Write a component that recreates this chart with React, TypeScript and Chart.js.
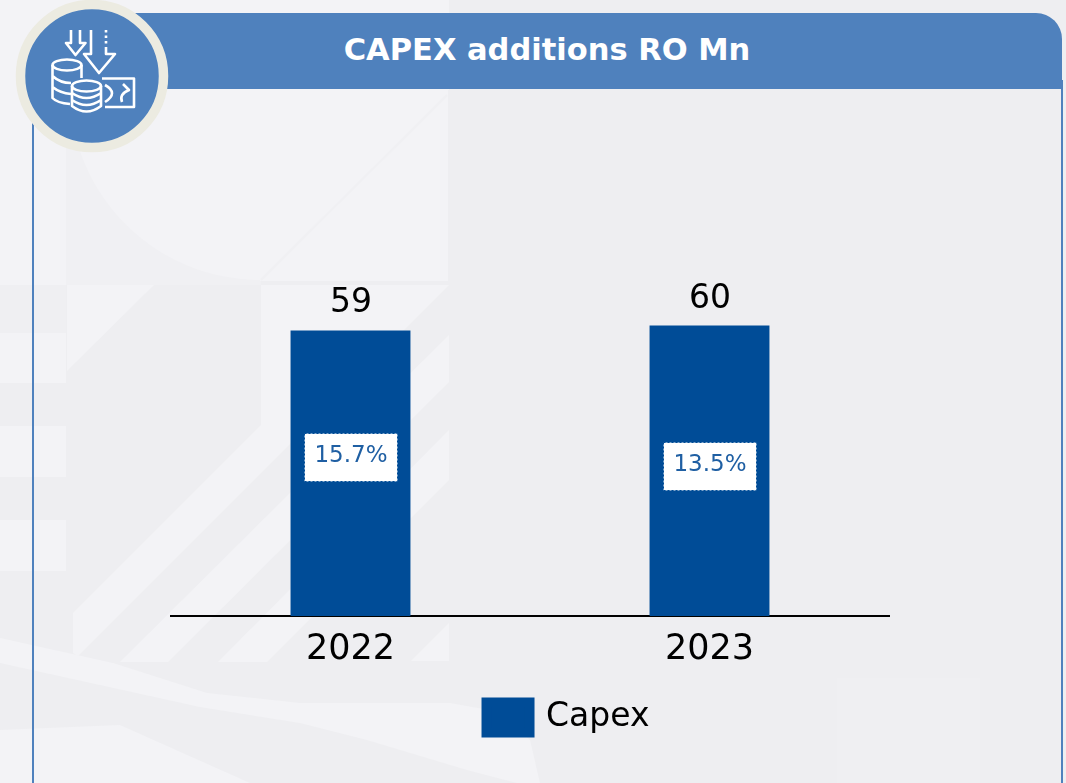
import React, { useEffect, useRef } from "react";
import { Chart, registerables } from "chart.js";

Chart.register(...registerables);

const categories = ["2022", "2023"];
const capexValues = [59, 60];
const percentLabels = ["15.7%", "13.5%"];
const percentAnchors = [32.9, 30.9];
const seriesName = "Capex";
const chartTitle = "CAPEX additions RO Mn";

const BLUE = "#004C97";
const HEADER = "#4F81BD";
const FONT = "'DejaVu Sans', sans-serif";

const annotations = {
  id: "annotations",
  afterDatasetsDraw(chart: any) {
    const { ctx, scales } = chart;
    const meta = chart.getDatasetMeta(0);
    ctx.save();
    meta.data.forEach((bar: any, i: number) => {
      ctx.fillStyle = "#000";
      ctx.font = `33px ${FONT}`;
      ctx.textAlign = "center";
      ctx.textBaseline = "alphabetic";
      ctx.fillText(String(capexValues[i]), bar.x + 0.5, bar.y - 18);
      const cy = scales.y.getPixelForValue(percentAnchors[i]);
      const w = 93;
      const h = 48;
      const x = Math.round(bar.x - w / 2) + 0.5;
      const y = Math.round(cy - h / 2) + 0.5;
      ctx.fillStyle = "#fff";
      ctx.fillRect(x, y, w, h);
      ctx.strokeStyle = BLUE;
      ctx.lineWidth = 1;
      ctx.setLineDash([2, 2]);
      ctx.strokeRect(x, y, w, h);
      ctx.setLineDash([]);
      ctx.fillStyle = "#1F5FA3";
      ctx.font = `23px ${FONT}`;
      ctx.textBaseline = "middle";
      ctx.fillText(percentLabels[i], bar.x + 0.5, cy - 1);
    });
    ctx.restore();
  },
};

function Background() {
  const light = "#F3F3F6";
  const base = "#EEEEF1";
  return (
    <svg width={1066} height={783} style={{ position: "absolute", left: 0, top: 0 }}>
      <rect width={1066} height={783} fill={base} />
      <rect x={0} y={0} width={449} height={90} fill={light} />
      <rect x={0} y={0} width={66} height={285} fill={light} />
      <rect x={66} y={90} width={195} height={195} fill="#F0F0F3" />
      <path d="M70 90A190 190 0 0 0 260 280V90Z" fill={light} />
      <rect x={260} y={90} width={188} height={191} fill={light} />
      <line x1={261} y1={280} x2={447} y2={95} stroke="#F0F0F3" strokeWidth={2} />
      <rect x={0} y={285} width={66} height={48} fill="#EFEFF2" />
      <rect x={0} y={333} width={66} height={50} fill={light} />
      <rect x={0} y={426} width={66} height={51} fill={light} />
      <rect x={0} y={520} width={66} height={51} fill={light} />
      <polygon points="67,285 154,285 67,371" fill={light} />
      <polygon points="261,285 449,285 78,656 73,653 73,613 261,425" fill={light} />
      <polygon points="449,335 449,382 168,662 120,662" fill={light} />
      <polygon points="449,430 449,480 267,662 218,662" fill={light} />
      <polygon points="449,623 449,661 411,661" fill={light} />
      <polygon points="0,638 113,663 207,693 300,703 450,703 500,712 530,740 540,783 517,783 467,770 367,740 300,723 200,707 0,663" fill={light} />
      <polygon points="0,730 120,725 250,783 0,783" fill={light} />
      <rect x={837} y={678} width={143} height={105} fill="#EFEFF2" />
    </svg>
  );
}

function Icon() {
  return (
    <svg
      viewBox="0 0 300 200"
      width={300}
      height={200}
      style={{ position: "absolute", left: 0, top: 0 }}
      fill="none"
      stroke="#fff"
      strokeWidth={2.6}
      strokeLinejoin="round"
    >
      <circle cx={92} cy={76} r={71.5} fill={HEADER} stroke="#ECEBE1" strokeWidth={9.5} />
      <path d="M71 30V43H66L75.500 55L85.500 43H80V30" />
      <path d="M91 30V54H84L99 73L115 54H106V47" />
      <path d="M106 30V44" strokeDasharray="2.500 3" />
      <ellipse cx={67} cy={65} rx={14.500} ry={5.500} />
      <path d="M52.500 65V98Q57 103 70 104M52.500 76Q60 83 71 83M52.500 87Q60 93 71 94M81.500 65V78" />
      <ellipse cx={86.500} cy={86} rx={14.500} ry={5.500} />
      <path d="M72 86V106Q86.500 117 101 106V86M72 93Q86.500 103 101 93M72 100Q86.500 110 101 100" />
      <path d="M102 78.500H134V107H105" />
      <path d="M105 85Q119 93 105 102" />
      <path d="M123 84L129 90Q119 94 122 102" />
    </svg>
  );
}

export default function App() {
  const ref = useRef<HTMLCanvasElement>(null);
  useEffect(() => {
    document.body.style.margin = "0";
    document.body.style.overflow = "hidden";
    const chart = new Chart(ref.current!, {
      type: "bar",
      data: {
        labels: categories,
        datasets: [
          {
            label: seriesName,
            data: capexValues,
            backgroundColor: BLUE,
            borderWidth: 0,
            categoryPercentage: 0.334,
            barPercentage: 1,
            yAxisID: "y",
          },
        ],
      },
      options: {
        responsive: false,
        animation: false,
        layout: { padding: { top: 132, left: 0, right: 0, bottom: 39 } },
        plugins: {
          title: { display: false },
          tooltip: { enabled: false },
          legend: {
            position: "bottom",
            labels: {
              boxWidth: 43,
              boxHeight: 30,
              color: "#000",
              font: { family: FONT, size: 33 },
              padding: 10,
              generateLabels: () => [
                {
                  text: seriesName,
                  fillStyle: BLUE,
                  strokeStyle: BLUE,
                  lineWidth: 10,
                  fontColor: "#000",
                  datasetIndex: 0,
                },
              ],
            },
          },
        },
        scales: {
          x: {
            grid: { display: false, drawTicks: false },
            border: { color: "#000", width: 2 },
            ticks: { color: "#000", font: { family: FONT, size: 35 }, padding: 13 },
            afterFit: (s: any) => { s.height = 75; },
          },
          y: {
            min: 0,
            max: 100,
            position: "left",
            grid: { display: false, drawTicks: false },
            border: { display: false },
            ticks: { display: false },
            afterFit: (s: any) => { s.width = 101; },
          },
          y2: {
            min: 0,
            max: 100,
            position: "right",
            grid: { display: false, drawTicks: false },
            border: { display: false },
            ticks: { display: false },
            afterFit: (s: any) => { s.width = 177; },
          },
        },
      },
      plugins: [annotations],
    } as any);
    return () => chart.destroy();
  }, []);

  return (
    <div style={{ position: "absolute", left: 0, top: 0, width: 1066, height: 783, overflow: "hidden" }}>
      <Background />
      <div style={{ position: "absolute", left: 32, top: 110, width: 2, height: 673, background: HEADER }} />
      <div style={{ position: "absolute", left: 1061, top: 80, width: 2, height: 703, background: HEADER }} />
      <div
        style={{
          position: "absolute",
          left: 130,
          top: 13,
          width: 932,
          height: 76,
          background: HEADER,
          borderTopRightRadius: 26,
          color: "#fff",
          fontFamily: FONT,
          fontWeight: 700,
          fontSize: 30.500,
          lineHeight: "73px",
          textAlign: "center",
        }}
      >
        <span style={{ position: "absolute", left: 0, width: 834, textAlign: "center" }}>{chartTitle}</span>
      </div>
      <Icon />
      <canvas ref={ref} width={996} height={783} style={{ position: "absolute", left: 70, top: 0 }} />
    </div>
  );
}
